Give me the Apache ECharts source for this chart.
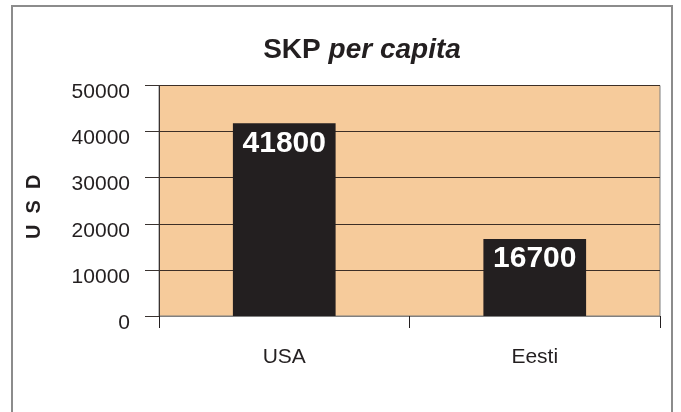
<!DOCTYPE html>
<html>
<head>
<meta charset="utf-8">
<script src="https://cdn.jsdelivr.net/npm/echarts@6/dist/echarts.min.js"></script>
<style>
html,body{margin:0;padding:0;background:#fff;}
#chart{width:681px;height:412px;}
</style>
</head>
<body>
<div id="chart"></div>
<script>
var categories = ['USA', 'Eesti'];
var values = [41800, 16700];
var yTicks = [0, 10000, 20000, 30000, 40000, 50000];

var FONT = '"Liberation Sans", Arial, sans-serif';
var chart = echarts.init(document.getElementById('chart'), null, {renderer: 'canvas'});
chart.setOption({
  animation: false,
  backgroundColor: '#ffffff',
  graphic: [{
    type: 'rect',
    shape: {x: 12, y: 6, width: 660, height: 420},
    style: {fill: 'none', stroke: '#8c8c8c', lineWidth: 2},
    silent: true,
    z: -10
  }],
  title: {
    text: '{a|SKP }{b|per capita}',
    left: 357,
    textAlign: 'center',
    top: 31,
    textStyle: {
      rich: {
        a: {fontFamily: FONT, fontSize: 28, fontWeight: 'bold', color: '#231f20'},
        b: {fontFamily: FONT, fontSize: 28, fontWeight: 'bold', fontStyle: 'italic', color: '#231f20'}
      }
    }
  },
  grid: {
    left: 159, right: 21, top: 85.5, bottom: 96,
    show: true,
    backgroundColor: '#f6cb9b',
    borderColor: '#7f7f7f',
    borderWidth: 1
  },
  xAxis: {
    type: 'category',
    data: categories,
    boundaryGap: true,
    axisLine: {show: true, lineStyle: {color: '#808080', width: 1}},
    axisTick: {show: true, length: 12, alignWithLabel: false, lineStyle: {color: '#231f20'}},
    axisLabel: {margin: 31, fontFamily: FONT, fontSize: 21, color: '#231f20'},
    splitLine: {show: false}
  },
  yAxis: {
    type: 'value',
    min: yTicks[0],
    max: yTicks[yTicks.length - 1],
    interval: yTicks[1] - yTicks[0],
    name: 'U  S  D',
    nameLocation: 'middle',
    nameGap: 115,
    nameRotate: 90,
    nameTextStyle: {fontFamily: FONT, fontSize: 20, fontWeight: 'bold', color: '#231f20', padding: [0, 12, 0, 0]},
    axisLine: {show: true, lineStyle: {color: '#3a3330', width: 1}},
    axisTick: {show: true, length: 14, lineStyle: {color: '#3a3330'}},
    axisLabel: {
      margin: 29, fontFamily: FONT, fontSize: 21, color: '#231f20',
      formatter: function (v) { return '{v|' + v + '}'; },
      rich: {
        v: {fontFamily: FONT, fontSize: 21, color: '#231f20', padding: [14, 0, 0, 0]}
      }
    },
    splitLine: {show: true, lineStyle: {color: '#3d2f26', width: 1}}
  },
  series: [{
    type: 'bar',
    data: values,
    barWidth: '41%',
    itemStyle: {color: '#231f20'},
    label: {
      show: true,
      position: 'insideTop',
      distance: 5,
      color: '#ffffff',
      fontFamily: FONT,
      fontSize: 30,
      fontWeight: 'bold'
    }
  }]
});
</script>
</body>
</html>
